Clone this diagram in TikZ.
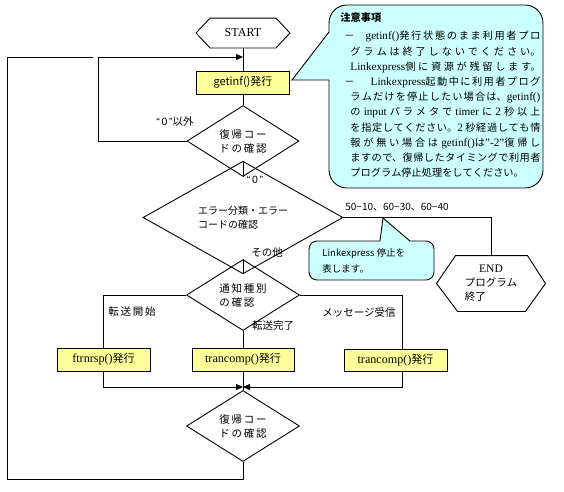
\documentclass[tikz,border=0pt]{standalone}
\usepackage{fontspec}
\setmainfont{Noto Sans CJK JP}
\newfontfamily\lat{Liberation Serif}[Scale=1.1]
\newfontfamily\lsans{Liberation Sans}
\usetikzlibrary{shapes.geometric,arrows.meta,calc}
\definecolor{boxyellow}{HTML}{FFFF99}
\definecolor{calloutcyan}{HTML}{CCFFFF}
\begin{document}
\begin{tikzpicture}[x=1pt,y=-1pt,line width=0.9pt,
  box/.style={draw, fill=boxyellow, minimum height=23pt, inner sep=0, font=\fontsize{11}{13}\selectfont},
  dia/.style={diamond, draw, inner sep=0, align=left, font=\fontsize{10.5}{14}\selectfont},
  hexa/.style={inner sep=0, align=center},
  lbl/.style={inner sep=0, font=\fontsize{10.5}{12}\selectfont},
  callout/.style={draw, fill=calloutcyan},
  arr/.style={-{Triangle[length=7pt,width=6pt]}}]
\useasboundingbox (0,0) rectangle (564,491);

% nodes
\node[hexa, minimum width=93pt, minimum height=29pt, font=\lat\fontsize{11}{13}\selectfont] (start) at (243,33) {START};
\node[box, minimum width=93pt] (gi) at (243,82.5) {getinf()発行};
\node[dia, minimum width=112pt, minimum height=60pt] (d1) at (243,141) {復\,帰\,コ\,ー\\ド\,の\,確\,認};
\node[dia, minimum width=200pt, minimum height=61pt, font=\fontsize{10}{13.5}\selectfont] (d2) at (243,217.5) {エラー分類・エラー\\コードの確認};
\node[dia, minimum width=113pt, minimum height=59pt] (d3) at (243,295) {通\,知\,種\,別\\の\,確\,認};
\node[box, minimum width=93pt] (ftr) at (103.5,359.5) {{\lat ftrnrsp()}発行};
\node[box, minimum width=102pt] (tc1) at (243,359.5) {{\lat trancomp()}発行};
\node[box, minimum width=103pt, minimum height=22pt] (tc2) at (395.5,360) {{\lat trancomp()}発行};
\node[dia, minimum width=113pt, minimum height=60pt] (d4) at (243,426) {復\,帰\,コ\,ー\\ド\,の\,確\,認};
\node[hexa, minimum width=108pt, minimum height=55pt, font=\fontsize{10.5}{14.5}\selectfont] (end) at (491,283.5)
  {\renewcommand{\arraystretch}{0.95}\begin{tabular}{@{}l@{}}\multicolumn{1}{@{}c@{}}{\lat END}\\プログラム\\終了\end{tabular}};

% hexagon outlines
\draw (start.west) -- ([xshift=14pt]start.north west) -- ([xshift=-14pt]start.north east) -- (start.east)
  -- ([xshift=-14pt]start.south east) -- ([xshift=14pt]start.south west) -- cycle;
\draw (end.west) -- ([xshift=19pt]end.north west) -- ([xshift=-18pt]end.north east) -- (end.east)
  -- ([xshift=-20pt]end.south east) -- ([xshift=21pt]end.south west) -- cycle;

% coordinates
\coordinate (j1) at (243,57);
\coordinate (c1) at (98,57);
\coordinate (o1) at (7,479);
\coordinate (o2) at (7,57);
\coordinate (o3) at (93,57);
\coordinate (j2) at (243,387);

% connectors
\draw (start) -- (gi);
\draw (gi) -- (d1);
\draw[arr] (d1.west) -| (c1) -- (j1);
\draw (d1.south) -- (d2.north);
\draw (d2.east) -| (end.north);
\draw (d2.south) -- (d3.north);
\draw (d3.west) -| (ftr.north);
\draw (d3.south) -- (tc1.north);
\draw (d3.east) -| ([xshift=6.5pt]tc2.north);
\draw[arr] (ftr.south) |- (j2);
\draw[arr] ([xshift=6.5pt]tc2.south) |- (j2);
\draw (tc1.south) -- (d4.north);
\draw (d4.south) |- (o1) -- (o2) -- (o3);

% labels
\node[lbl] (l0x) at (175,122) {{\lsans “\,0\,”}以外};
\node[lbl] (l0) at (255,180) {{\lsans “\,0\,”}};
\node[lbl, font=\fontsize{10}{12}\selectfont] (lcode) at (397,207) {50−10、60−30、60−40};
\node[lbl] (lother) at (267,253) {その他};
\node[lbl] (lstart) at (132,312) {転\,送\,開\,始};
\node[lbl] (ldone) at (273,326) {転送完了};
\node[lbl] (lmsg) at (359,312) {メッセージ受信};

% big callout
\filldraw[callout, rounded corners=18pt] (329,5) rectangle (543,188);
\fill[calloutcyan] (330,32) -- (292,80) -- (330,80) -- cycle;
\draw (329,32) -- (292,80) -- (329,80);
\node[anchor=north west, inner sep=0, text width=200pt, align=justify, font=\fontsize{10.2}{15.2}\selectfont] (note) at (340,12.5) {%
\XeTeXlinebreaklocale "ja"\XeTeXlinebreakskip=0pt plus 4pt\relax
\tolerance=10000\rightskip=0pt\relax\parfillskip=0pt plus 1fil\relax\parindent=0pt\relax
{\bfseries 注意事項}\par\vspace{3pt}%
\leftskip=10pt\relax\parindent=-6pt\relax\parfillskip=0pt\relax
－\hspace{11pt}{\lat getinf()}発行状態のまま利用者プロ\linebreak
グラムは終了しないでください。\linebreak
{\lat Linkexpress}側に資源が残留します。\par
\parfillskip=0pt plus 1fil\relax
－\hspace{16pt}{\lat Linkexpress}起動中に利用者プログ\linebreak
ラムだけを停止したい場合は、{\lat getinf()}\linebreak
の {\lat input} パラメタで {\lat timer} に {\lat 2} 秒以上\linebreak
を指定してください。{\lat 2} 秒経過しても情\linebreak
報が無い場合は {\lat getinf()}は{\lat ”-2”}復帰し\linebreak
ますので、復帰したタイミングで利用者\linebreak
プログラム停止処理をしてください。\par};

% small callout
\filldraw[callout, rounded corners=8pt] (309,241) rectangle (434,280);
\fill[calloutcyan] (380,242) -- (383,218) -- (410,242) -- cycle;
\draw (380,241) -- (383,218) -- (410,241);
\node[anchor=west, align=left, inner sep=0, font=\fontsize{9.5}{16}\selectfont] (lk) at (322,261) {Linkexpress 停止を\\表します。};
\end{tikzpicture}
\end{document}
